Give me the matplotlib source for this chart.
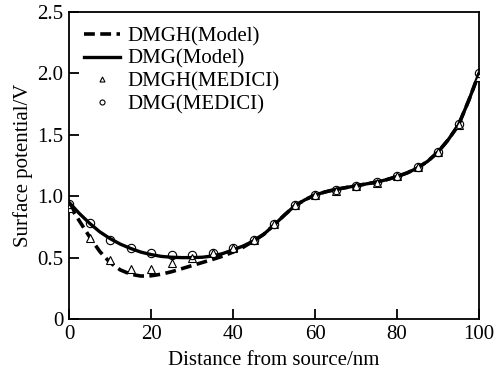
import matplotlib
matplotlib.use('Agg')
import matplotlib.pyplot as plt

plt.rcParams['font.family'] = ['Liberation Serif', 'DejaVu Serif']
plt.rcParams['font.size'] = 15

# model curves
x_model = [0, 2.5, 5, 7.5, 10, 12.5, 15, 17.5, 20, 22.5, 25, 27.5, 30, 32.5, 35,
           37.5, 40, 42.5, 45, 47.5, 50, 52.5, 55, 57.5, 60, 62.5, 65, 67.5, 70,
           72.5, 75, 77.5, 80, 82.5, 85, 87.5, 90, 92.5, 95, 97.5, 100]
dmg_model = [0.95, 0.86, 0.78, 0.71, 0.655, 0.61, 0.575, 0.545, 0.525, 0.51, 0.503,
             0.50, 0.50, 0.503, 0.513, 0.533, 0.563, 0.595, 0.635, 0.69, 0.765, 0.845,
             0.92, 0.97, 1.01, 1.035, 1.055, 1.07, 1.085, 1.10, 1.115, 1.135, 1.16,
             1.19, 1.23, 1.285, 1.36, 1.46, 1.58, 1.78, 2.0]
dmgh_model = [0.93, 0.80, 0.67, 0.55, 0.46, 0.40, 0.365, 0.35, 0.352, 0.365, 0.385,
              0.41, 0.435, 0.46, 0.485, 0.512, 0.545, 0.585, 0.635, 0.69, 0.765, 0.845,
              0.92, 0.97, 1.01, 1.035, 1.055, 1.07, 1.085, 1.10, 1.115, 1.135, 1.16,
              1.19, 1.23, 1.285, 1.36, 1.46, 1.58, 1.78, 2.0]

# MEDICI points
x_medici = [0, 5, 10, 15, 20, 25, 30, 35, 40, 45, 50, 55, 60, 65, 70, 75, 80, 85, 90, 95, 100]
dmgh_medici = [0.90, 0.66, 0.48, 0.405, 0.41, 0.46, 0.50, 0.535, 0.575, 0.64, 0.77,
               0.93, 1.01, 1.045, 1.08, 1.11, 1.165, 1.235, 1.36, 1.58, 1.97]
dmg_medici = [0.94, 0.78, 0.64, 0.575, 0.535, 0.52, 0.52, 0.54, 0.575, 0.645, 0.77,
              0.93, 1.01, 1.05, 1.08, 1.115, 1.165, 1.235, 1.36, 1.59, 2.0]

x_ticks = [0, 20, 40, 60, 80, 100]
y_ticks = [0, 0.5, 1.0, 1.5, 2.0, 2.5]
y_ticklabels = ['0', '0.5', '1.0', '1.5', '2.0', '2.5']

fig = plt.figure(figsize=(5.03, 3.70), dpi=100)
ax = fig.add_axes([0.1372, 0.1378, 0.8151, 0.8298])

ax.plot(x_model, dmgh_model, color='black', lw=2.6, ls=(0, (3.0, 1.5)), label='DMGH(Model)')
ax.plot(x_model, dmg_model, color='black', lw=2.4, label='DMG(Model)')
ax.plot(x_medici, dmgh_medici, ls='none', marker='^', ms=6, mfc='white', mec='black',
        mew=0.8, label='DMGH(MEDICI)', zorder=4)
ax.plot(x_medici, dmg_medici, ls='none', marker='o', ms=6, mfc='none', mec='black',
        mew=0.8, label='DMG(MEDICI)', zorder=5)

ax.set_xlim(0, 100)
ax.set_ylim(0, 2.5)
ax.set_xticks(x_ticks)
ax.set_yticks(y_ticks)
ax.set_yticklabels(y_ticklabels)
ax.tick_params(direction='in', length=7, width=1.3, pad=4)
for s in ax.spines.values():
    s.set_linewidth(1.3)

ax.set_xlabel('Distance from source/nm', labelpad=5)
ax.set_ylabel('Surface potential/V', labelpad=3)

leg = ax.legend(loc='upper left', frameon=False, handlelength=1.75, handletextpad=0.35,
                markerscale=0.6, borderaxespad=0.3, labelspacing=0.15,
                bbox_to_anchor=(0.0, 1.0))

fig.savefig('out.png', dpi=100)
